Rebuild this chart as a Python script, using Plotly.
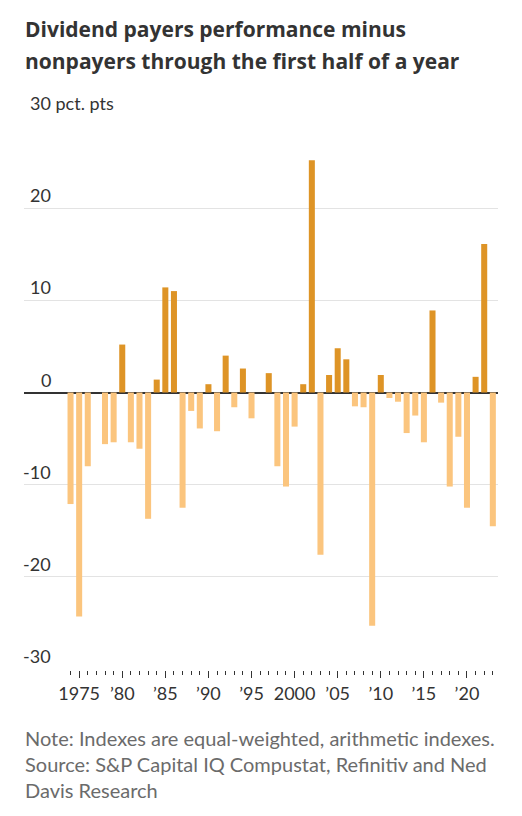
import plotly.graph_objects as go

# first-half performance gap, dividend payers minus nonpayers (pct. pts)
years = list(range(1974, 2024))
diff = [
    -12.1, -24.3, -8.0, 0.0, -5.6, -5.4, 5.2, -5.4, -6.1, -13.7,   # 1974-83
    1.4, 11.4, 11.0, -12.5, -2.0, -3.9, 0.9, -4.2, 4.0, -1.6,      # 1984-93
    2.6, -2.8, 0.0, 2.1, -8.0, -10.2, -3.7, 0.9, 25.2, -17.6,      # 1994-2003
    1.9, 4.8, 3.6, -1.5, -1.6, -25.3, 1.9, -0.6, -1.0, -4.4,       # 2004-13
    -2.5, -5.4, 8.9, -1.1, -10.2, -4.8, -12.5, 1.7, 16.1, -14.5,   # 2014-23
]

xtick_vals = [1975, 1980, 1985, 1990, 1995, 2000, 2005, 2010, 2015, 2020]
xtick_text = ["1975", "\u201980", "\u201985", "\u201990", "\u201995",
              "2000", "\u201905", "\u201910", "\u201915", "\u201920"]
ytick_vals = [30, 20, 10, 0, -10, -20, -30]
ytick_text = ["30 pct. pts", "20", "10", "0", "-10", "-20", "-30"]

title_lines = ["Dividend payers performance minus",
               "nonpayers through the first half of a year"]
note = ("Note: Indexes are equal-weighted, arithmetic indexes.<br>"
        "Source: S&P Capital IQ Compustat, Refinitiv and Ned<br>Davis Research")

POS = "#DE9426"
NEG = "#FBC57E"
FONT = "Lato"

colors = [POS if v > 0 else NEG for v in diff]

fig = go.Figure()
fig.add_trace(go.Bar(x=years, y=diff, width=0.7, marker=dict(color=colors, line=dict(width=0)),
                     hoverinfo="x+y"))

# y labels sit above the gridlines, right-aligned (top one carries the unit)
for v, t in zip(ytick_vals, ytick_text):
    if v == ytick_vals[0]:
        fig.add_annotation(x=0, xref="paper", y=v, yref="y", text=t, showarrow=False,
                           xanchor="left", yanchor="bottom", xshift=4, yshift=0,
                           font=dict(family=FONT, size=18, color="#333"))
    else:
        fig.add_annotation(x=0, xref="paper", y=v, yref="y", text=t, showarrow=False,
                           xanchor="right", yanchor="bottom", xshift=29, yshift=0,
                           font=dict(family=FONT, size=18, color="#333"))

# title, one annotation per line to get the wider line spacing
for i, line in enumerate(title_lines):
    fig.add_annotation(x=0, xref="paper", y=[1.155, 1.097][i], yref="paper", text=line,
                       showarrow=False, xanchor="left", yanchor="middle", xshift=-1,
                       font=dict(family="Open Sans", size=21, color="#333", weight="bold"))

fig.add_annotation(x=0, xref="paper", y=-0.1694, yref="paper", showarrow=False,
                   text=note, xanchor="left", yanchor="middle", align="left", xshift=-1,
                   font=dict(family=FONT, size=20, color="#6b6b6b"))

fig.update_layout(
    width=506, height=800,
    margin=dict(l=16, r=16, t=107, b=138),
    paper_bgcolor="white", plot_bgcolor="white",
    showlegend=False,
    bargap=0.3,
)

fig.update_xaxes(range=[1968.6, 2023.6], tickvals=xtick_vals, ticktext=xtick_text,
                 ticks="outside", ticklen=7, tickwidth=1.3, tickcolor="#333",
                 showgrid=False, zeroline=False, showline=False,
                 tickfont=dict(family=FONT, size=18, color="#333"),
                 minor=dict(tickmode="array", tickvals=years, ticks="outside", ticklen=4,
                            tickwidth=1.3, tickcolor="#333", showgrid=False))
fig.update_yaxes(range=[-30.1, 30.1], tickvals=ytick_vals, showticklabels=False,
                 showgrid=True, gridcolor="#e3e3e3", gridwidth=1,
                 zeroline=True, zerolinecolor="#333", zerolinewidth=1.5, showline=False)

fig.write_html("out.html")
